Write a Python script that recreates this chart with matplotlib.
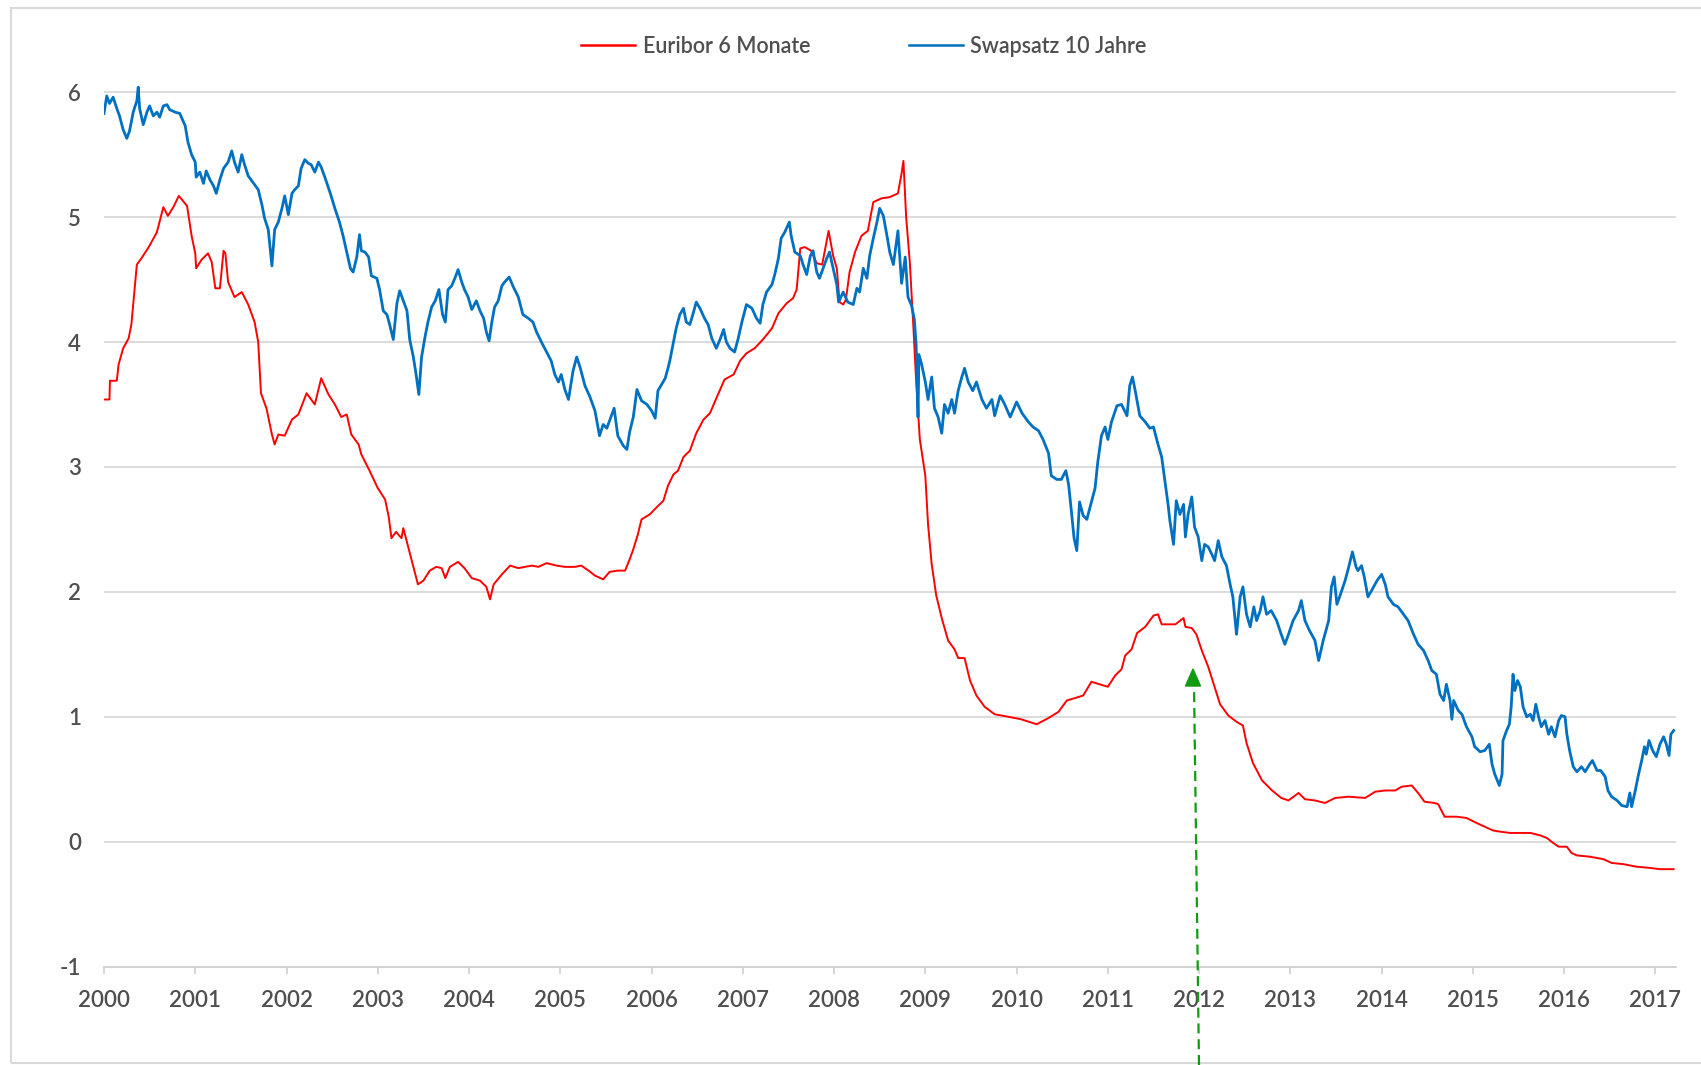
import matplotlib
matplotlib.use("Agg")
import matplotlib.pyplot as plt
from matplotlib.lines import Line2D
from matplotlib.patches import Polygon, Rectangle

# ---------------- data ----------------
eur_t = [2000.00, 2000.06, 2000.065, 2000.14, 2000.16, 2000.21, 2000.27, 2000.30, 2000.36, 2000.41,
         2000.49, 2000.58, 2000.65, 2000.70, 2000.76, 2000.82, 2000.91, 2000.96, 2001.00, 2001.01,
         2001.07, 2001.14, 2001.18, 2001.22, 2001.27, 2001.31, 2001.33, 2001.36, 2001.43, 2001.51,
         2001.58, 2001.65, 2001.69, 2001.72, 2001.78, 2001.84, 2001.87, 2001.91, 2001.98, 2002.06,
         2002.13, 2002.22, 2002.31, 2002.38, 2002.46, 2002.53, 2002.60, 2002.66, 2002.71, 2002.79,
         2002.82, 2002.91, 2003.00, 2003.08, 2003.12, 2003.15, 2003.20, 2003.26, 2003.28, 2003.33,
         2003.39, 2003.44, 2003.50, 2003.57, 2003.64, 2003.70, 2003.74, 2003.79, 2003.88, 2003.95,
         2004.03, 2004.12, 2004.19, 2004.23, 2004.27, 2004.36, 2004.45, 2004.54, 2004.61, 2004.69,
         2004.76, 2004.85, 2004.96, 2005.05, 2005.16, 2005.23, 2005.31, 2005.38, 2005.47, 2005.54,
         2005.63, 2005.71, 2005.76, 2005.80, 2005.85, 2005.89, 2005.98, 2006.06, 2006.13, 2006.18,
         2006.24, 2006.29, 2006.35, 2006.42, 2006.49, 2006.57, 2006.64, 2006.71, 2006.80, 2006.90,
         2006.97, 2007.04, 2007.13, 2007.22, 2007.32, 2007.39, 2007.48, 2007.55, 2007.59, 2007.63,
         2007.68, 2007.75, 2007.81, 2007.87, 2007.94, 2007.99, 2008.03, 2008.06, 2008.10, 2008.13,
         2008.17, 2008.23, 2008.30, 2008.37, 2008.43, 2008.52, 2008.61, 2008.70, 2008.74, 2008.76,
         2008.79, 2008.83, 2008.87, 2008.90, 2008.94, 2009.00, 2009.03, 2009.07, 2009.12, 2009.18,
         2009.25, 2009.32, 2009.36, 2009.43, 2009.49, 2009.56, 2009.65, 2009.76, 2009.91, 2010.05,
         2010.22, 2010.35, 2010.46, 2010.55, 2010.64, 2010.73, 2010.82, 2010.91, 2011.00, 2011.08,
         2011.15, 2011.19, 2011.26, 2011.32, 2011.41, 2011.50, 2011.55, 2011.59, 2011.70, 2011.74,
         2011.83, 2011.85, 2011.92, 2011.97, 2012.03, 2012.10, 2012.17, 2012.23, 2012.32, 2012.41,
         2012.48, 2012.52, 2012.59, 2012.69, 2012.80, 2012.90, 2012.98, 2013.09, 2013.16, 2013.27,
         2013.38, 2013.49, 2013.64, 2013.82, 2013.93, 2014.04, 2014.15, 2014.22, 2014.33, 2014.40,
         2014.47, 2014.58, 2014.62, 2014.69, 2014.82, 2014.93, 2015.04, 2015.13, 2015.22, 2015.30,
         2015.41, 2015.52, 2015.63, 2015.74, 2015.81, 2015.88, 2015.94, 2016.03, 2016.08, 2016.14,
         2016.28, 2016.43, 2016.52, 2016.65, 2016.79, 2016.94, 2017.05, 2017.20]
eur_v = [3.54, 3.54, 3.69, 3.69, 3.82, 3.95, 4.03, 4.14, 4.62, 4.67,
         4.76, 4.88, 5.08, 5.01, 5.08, 5.17, 5.09, 4.85, 4.71, 4.59,
         4.66, 4.71, 4.64, 4.43, 4.43, 4.73, 4.71, 4.48, 4.36, 4.40,
         4.30, 4.16, 4.00, 3.59, 3.47, 3.26, 3.18, 3.26, 3.25, 3.38,
         3.42, 3.59, 3.50, 3.71, 3.58, 3.50, 3.40, 3.42, 3.26, 3.18,
         3.10, 2.97, 2.83, 2.74, 2.60, 2.43, 2.48, 2.43, 2.51, 2.37,
         2.20, 2.06, 2.09, 2.17, 2.20, 2.19, 2.11, 2.20, 2.24, 2.19,
         2.11, 2.09, 2.04, 1.94, 2.06, 2.14, 2.21, 2.19, 2.20, 2.21,
         2.20, 2.23, 2.21, 2.20, 2.20, 2.21, 2.17, 2.13, 2.10, 2.16,
         2.17, 2.17, 2.26, 2.34, 2.46, 2.58, 2.62, 2.68, 2.73, 2.85,
         2.94, 2.97, 3.08, 3.13, 3.27, 3.38, 3.43, 3.55, 3.70, 3.74,
         3.85, 3.91, 3.95, 4.02, 4.11, 4.23, 4.31, 4.35, 4.42, 4.75,
         4.76, 4.73, 4.63, 4.62, 4.89, 4.69, 4.59, 4.32, 4.30, 4.34,
         4.56, 4.72, 4.85, 4.89, 5.12, 5.15, 5.16, 5.19, 5.35, 5.45,
         5.00, 4.64, 4.11, 3.68, 3.22, 2.93, 2.54, 2.22, 1.97, 1.79,
         1.61, 1.54, 1.47, 1.47, 1.29, 1.17, 1.08, 1.02, 1.00, 0.98,
         0.94, 0.99, 1.04, 1.13, 1.15, 1.17, 1.28, 1.26, 1.24, 1.33,
         1.38, 1.49, 1.54, 1.67, 1.72, 1.81, 1.82, 1.74, 1.74, 1.74,
         1.79, 1.72, 1.71, 1.66, 1.53, 1.40, 1.24, 1.10, 1.01, 0.96,
         0.93, 0.79, 0.63, 0.49, 0.41, 0.35, 0.33, 0.39, 0.34, 0.33,
         0.31, 0.35, 0.36, 0.35, 0.40, 0.41, 0.41, 0.44, 0.45, 0.39,
         0.32, 0.31, 0.30, 0.20, 0.20, 0.19, 0.15, 0.12, 0.09, 0.08,
         0.07, 0.07, 0.07, 0.05, 0.03, -0.01, -0.04, -0.04, -0.09, -0.11,
         -0.12, -0.14, -0.17, -0.18, -0.20, -0.21, -0.22, -0.22]

swap_t = [2000.00, 2000.03, 2000.06, 2000.10, 2000.14, 2000.17, 2000.21, 2000.25, 2000.28, 2000.32,
          2000.36, 2000.375, 2000.39, 2000.43, 2000.47, 2000.50, 2000.54, 2000.58, 2000.61, 2000.65,
          2000.69, 2000.72, 2000.78, 2000.83, 2000.89, 2000.92, 2000.96, 2001.00, 2001.01, 2001.05,
          2001.09, 2001.12, 2001.16, 2001.20, 2001.23, 2001.27, 2001.31, 2001.36, 2001.40, 2001.43,
          2001.47, 2001.51, 2001.54, 2001.58, 2001.64, 2001.69, 2001.73, 2001.76, 2001.80, 2001.84,
          2001.87, 2001.91, 2001.95, 2001.98, 2002.02, 2002.06, 2002.09, 2002.13, 2002.16, 2002.20,
          2002.24, 2002.27, 2002.31, 2002.35, 2002.38, 2002.42, 2002.48, 2002.53, 2002.58, 2002.62,
          2002.66, 2002.70, 2002.73, 2002.77, 2002.80, 2002.82, 2002.86, 2002.90, 2002.93, 2002.99,
          2003.02, 2003.06, 2003.10, 2003.13, 2003.17, 2003.21, 2003.24, 2003.28, 2003.32, 2003.35,
          2003.39, 2003.42, 2003.45, 2003.48, 2003.52, 2003.55, 2003.59, 2003.63, 2003.67, 2003.71,
          2003.74, 2003.77, 2003.81, 2003.85, 2003.88, 2003.92, 2003.95, 2003.99, 2004.03, 2004.08,
          2004.12, 2004.16, 2004.19, 2004.22, 2004.25, 2004.28, 2004.32, 2004.36, 2004.39, 2004.44,
          2004.48, 2004.54, 2004.59, 2004.65, 2004.70, 2004.74, 2004.80, 2004.85, 2004.90, 2004.94,
          2004.98, 2005.01, 2005.05, 2005.09, 2005.14, 2005.18, 2005.22, 2005.27, 2005.32, 2005.38,
          2005.43, 2005.47, 2005.51, 2005.54, 2005.59, 2005.63, 2005.69, 2005.73, 2005.76, 2005.80,
          2005.84, 2005.89, 2005.95, 2006.00, 2006.04, 2006.07, 2006.11, 2006.15, 2006.18, 2006.20,
          2006.24, 2006.27, 2006.31, 2006.35, 2006.38, 2006.42, 2006.46, 2006.49, 2006.53, 2006.58,
          2006.62, 2006.66, 2006.71, 2006.75, 2006.79, 2006.82, 2006.86, 2006.91, 2006.95, 2006.99,
          2007.04, 2007.10, 2007.15, 2007.19, 2007.22, 2007.26, 2007.32, 2007.35, 2007.39, 2007.42,
          2007.46, 2007.51, 2007.53, 2007.57, 2007.63, 2007.66, 2007.70, 2007.74, 2007.77, 2007.81,
          2007.84, 2007.88, 2007.92, 2007.95, 2007.99, 2008.03, 2008.05, 2008.10, 2008.15, 2008.21,
          2008.25, 2008.28, 2008.32, 2008.36, 2008.39, 2008.43, 2008.47, 2008.50, 2008.54, 2008.58,
          2008.61, 2008.65, 2008.70, 2008.74, 2008.78, 2008.81, 2008.85, 2008.88, 2008.90, 2008.92,
          2008.93, 2008.96, 2009.00, 2009.03, 2009.07, 2009.10, 2009.14, 2009.18, 2009.21, 2009.25,
          2009.29, 2009.32, 2009.36, 2009.40, 2009.43, 2009.47, 2009.52, 2009.56, 2009.62, 2009.67,
          2009.73, 2009.76, 2009.82, 2009.87, 2009.93, 2010.00, 2010.06, 2010.13, 2010.18, 2010.24,
          2010.29, 2010.35, 2010.38, 2010.44, 2010.49, 2010.54, 2010.57, 2010.60, 2010.63, 2010.66,
          2010.69, 2010.73, 2010.77, 2010.82, 2010.86, 2010.89, 2010.93, 2010.97, 2011.00, 2011.04,
          2011.10, 2011.15, 2011.21, 2011.24, 2011.27, 2011.30, 2011.35, 2011.41, 2011.46, 2011.50,
          2011.55, 2011.59, 2011.63, 2011.66, 2011.68, 2011.72, 2011.75, 2011.79, 2011.83, 2011.85,
          2011.88, 2011.92, 2011.95, 2011.99, 2012.03, 2012.06, 2012.10, 2012.14, 2012.17, 2012.21,
          2012.25, 2012.30, 2012.34, 2012.37, 2012.41, 2012.45, 2012.48, 2012.52, 2012.56, 2012.60,
          2012.63, 2012.67, 2012.70, 2012.74, 2012.79, 2012.85, 2012.90, 2012.94, 2012.98, 2013.03,
          2013.09, 2013.12, 2013.16, 2013.21, 2013.27, 2013.31, 2013.36, 2013.42, 2013.45, 2013.48,
          2013.51, 2013.54, 2013.60, 2013.64, 2013.68, 2013.72, 2013.74, 2013.78, 2013.81, 2013.85,
          2013.89, 2013.95, 2014.00, 2014.04, 2014.07, 2014.13, 2014.18, 2014.24, 2014.29, 2014.35,
          2014.40, 2014.46, 2014.51, 2014.55, 2014.60, 2014.64, 2014.68, 2014.71, 2014.75, 2014.77,
          2014.79, 2014.84, 2014.88, 2014.93, 2014.99, 2015.02, 2015.08, 2015.13, 2015.18, 2015.21,
          2015.24, 2015.29, 2015.32, 2015.33, 2015.37, 2015.40, 2015.42, 2015.44, 2015.46, 2015.49,
          2015.52, 2015.55, 2015.59, 2015.63, 2015.66, 2015.69, 2015.72, 2015.75, 2015.79, 2015.83,
          2015.86, 2015.90, 2015.94, 2015.97, 2016.01, 2016.03, 2016.06, 2016.10, 2016.14, 2016.19,
          2016.23, 2016.28, 2016.31, 2016.36, 2016.40, 2016.45, 2016.48, 2016.52, 2016.58, 2016.63,
          2016.69, 2016.72, 2016.74, 2016.78, 2016.81, 2016.85, 2016.88, 2016.90, 2016.93, 2016.97,
          2017.01, 2017.05, 2017.09, 2017.12, 2017.15, 2017.17, 2017.20]
swap_v = [5.83, 5.97, 5.91, 5.96, 5.87, 5.81, 5.70, 5.63, 5.69, 5.84,
          5.93, 6.04, 5.87, 5.74, 5.84, 5.89, 5.81, 5.84, 5.80, 5.89,
          5.90, 5.86, 5.84, 5.83, 5.73, 5.60, 5.50, 5.44, 5.32, 5.36,
          5.27, 5.37, 5.30, 5.25, 5.19, 5.30, 5.39, 5.44, 5.53, 5.44,
          5.36, 5.50, 5.42, 5.33, 5.27, 5.22, 5.10, 4.99, 4.90, 4.61,
          4.90, 4.96, 5.07, 5.17, 5.02, 5.19, 5.22, 5.25, 5.39, 5.46,
          5.43, 5.42, 5.36, 5.44, 5.40, 5.32, 5.19, 5.07, 4.96, 4.85,
          4.72, 4.59, 4.56, 4.68, 4.86, 4.73, 4.72, 4.68, 4.53, 4.51,
          4.42, 4.25, 4.22, 4.14, 4.02, 4.31, 4.41, 4.33, 4.25, 4.02,
          3.88, 3.74, 3.58, 3.88, 4.05, 4.16, 4.28, 4.33, 4.42, 4.22,
          4.16, 4.42, 4.45, 4.52, 4.58, 4.48, 4.42, 4.36, 4.26, 4.33,
          4.25, 4.19, 4.08, 4.01, 4.16, 4.28, 4.33, 4.45, 4.48, 4.52,
          4.45, 4.36, 4.22, 4.19, 4.16, 4.08, 3.99, 3.92, 3.85, 3.74,
          3.68, 3.74, 3.62, 3.54, 3.77, 3.88, 3.79, 3.65, 3.57, 3.45,
          3.25, 3.34, 3.31, 3.37, 3.47, 3.25, 3.17, 3.14, 3.28, 3.40,
          3.62, 3.53, 3.50, 3.45, 3.39, 3.61, 3.66, 3.71, 3.79, 3.85,
          4.00, 4.11, 4.22, 4.27, 4.16, 4.14, 4.24, 4.32, 4.27, 4.19,
          4.14, 4.03, 3.95, 4.02, 4.10, 4.00, 3.95, 3.92, 4.03, 4.16,
          4.30, 4.27, 4.19, 4.15, 4.30, 4.40, 4.46, 4.54, 4.67, 4.83,
          4.88, 4.96, 4.85, 4.72, 4.69, 4.62, 4.54, 4.69, 4.73, 4.56,
          4.51, 4.59, 4.67, 4.72, 4.59, 4.46, 4.32, 4.40, 4.32, 4.30,
          4.43, 4.40, 4.59, 4.51, 4.69, 4.83, 4.96, 5.07, 5.01, 4.85,
          4.72, 4.62, 4.89, 4.47, 4.68, 4.36, 4.29, 4.18, 3.97, 3.40,
          3.90, 3.82, 3.68, 3.54, 3.72, 3.47, 3.40, 3.27, 3.50, 3.43,
          3.54, 3.43, 3.61, 3.72, 3.79, 3.68, 3.61, 3.68, 3.54, 3.47,
          3.54, 3.41, 3.57, 3.50, 3.40, 3.52, 3.43, 3.36, 3.32, 3.29,
          3.22, 3.11, 2.93, 2.90, 2.90, 2.97, 2.86, 2.65, 2.43, 2.33,
          2.72, 2.61, 2.58, 2.72, 2.83, 3.04, 3.25, 3.32, 3.22, 3.36,
          3.49, 3.50, 3.41, 3.65, 3.72, 3.61, 3.41, 3.36, 3.31, 3.32,
          3.18, 3.08, 2.86, 2.70, 2.57, 2.38, 2.73, 2.62, 2.70, 2.44,
          2.62, 2.76, 2.52, 2.44, 2.25, 2.38, 2.36, 2.30, 2.25, 2.41,
          2.28, 2.21, 2.06, 1.96, 1.66, 1.96, 2.04, 1.82, 1.72, 1.88,
          1.77, 1.85, 1.96, 1.82, 1.85, 1.77, 1.66, 1.58, 1.66, 1.77,
          1.85, 1.93, 1.77, 1.69, 1.61, 1.45, 1.61, 1.77, 2.04, 2.12,
          1.90, 1.96, 2.09, 2.20, 2.32, 2.20, 2.17, 2.21, 2.12, 1.96,
          2.01, 2.09, 2.14, 2.06, 1.96, 1.90, 1.88, 1.82, 1.77, 1.66,
          1.58, 1.53, 1.45, 1.37, 1.34, 1.18, 1.13, 1.26, 1.13, 0.98,
          1.13, 1.05, 1.02, 0.92, 0.84, 0.76, 0.72, 0.73, 0.78, 0.62,
          0.54, 0.45, 0.54, 0.81, 0.89, 0.94, 1.08, 1.34, 1.21, 1.29,
          1.24, 1.08, 1.00, 1.02, 0.97, 1.10, 1.00, 0.92, 0.97, 0.86,
          0.92, 0.84, 0.97, 1.01, 1.00, 0.86, 0.73, 0.60, 0.56, 0.60,
          0.56, 0.62, 0.65, 0.57, 0.57, 0.52, 0.41, 0.36, 0.33, 0.29,
          0.28, 0.39, 0.28, 0.41, 0.52, 0.65, 0.76, 0.70, 0.81, 0.73,
          0.68, 0.78, 0.84, 0.78, 0.69, 0.86, 0.89]

series_names = ["Euribor 6 Monate", "Swapsatz 10 Jahre"]
year_ticks = list(range(2000, 2018))
year_labels = [str(y) for y in year_ticks]
value_ticks = [-1, 0, 1, 2, 3, 4, 5, 6]
value_labels = ["-1", "0", "1", "2", "3", "4", "5", "6"]

# ---------------- figure ----------------
plt.rcParams["font.family"] = ["Lato", "DejaVu Sans"]
W, H = 1701, 1065
fig = plt.figure(figsize=(W / 100, H / 100), dpi=100)
fig.patch.set_facecolor("white")

ax = fig.add_axes([104 / W, 1 - 966.6 / H, (1676 - 104) / W, (966.6 - 79.7) / H])
ax.plot(eur_t, eur_v, color="#FF0000", lw=1.4, label=series_names[0], zorder=3)
ax.plot(swap_t, swap_v, color="#0070C0", lw=2.0, label=series_names[1], zorder=4)

ax.set_xlim(2000.0, 2017.226)
ax.set_ylim(-1, 6.1)
ax.set_xticks(year_ticks)
ax.set_xticklabels(year_labels)
ax.set_yticks(value_ticks)
ax.set_yticklabels(value_labels)

ax.yaxis.grid(True, color="#d9d9d9", lw=1.3, zorder=0)
ax.set_axisbelow(True)
for s in ["top", "right", "left"]:
    ax.spines[s].set_visible(False)
ax.spines["bottom"].set_color("#d0d0d0")
ax.spines["bottom"].set_linewidth(1.3)

tick_font = dict(fontsize=16, fontweight="semibold", color="#4f4f4f")
ax.tick_params(axis="y", length=0, pad=16.5)
ax.tick_params(axis="x", length=5, width=1.2, color="#d0d0d0", pad=11.5)
for lab in ax.get_xticklabels() + ax.get_yticklabels():
    lab.set_fontsize(tick_font["fontsize"])
    lab.set_fontweight(tick_font["fontweight"])
    lab.set_color(tick_font["color"])

handles = [Line2D([], [], color="#FF0000", lw=1.8), Line2D([], [], color="#0070C0", lw=1.8)]
fig.legend(handles, series_names, loc="center", bbox_to_anchor=(864 / W, 1 - 46.5 / H),
           ncol=2, frameon=False, handlelength=2.5, handletextpad=0.35,
           columnspacing=4.6, labelcolor="#4f4f4f",
           prop={"size": 15.5, "weight": "semibold"})

# chart-area border
fig.patches.append(Rectangle((11 / W, 2 / H), 1.2, (1063 - 8) / H, transform=fig.transFigure,
                             fill=False, edgecolor="#d9d9d9", lw=1.5))

# green dashed annotation arrow
green = "#129a12"
fig.lines.append(Line2D([1199 / W, 1194 / W], [0.0, (H - 684) / H], transform=fig.transFigure,
                        color=green, lw=1.6, linestyle=(0, (4.5, 2.6))))
tip = (1193 / W, (H - 669) / H)
fig.patches.append(Polygon([tip, ((1193 - 7.5) / W, (H - 686) / H), ((1193 + 7.5) / W, (H - 686) / H)],
                           closed=True, transform=fig.transFigure, facecolor=green, edgecolor=green))

fig.savefig("out.png", dpi=100, facecolor="white")
